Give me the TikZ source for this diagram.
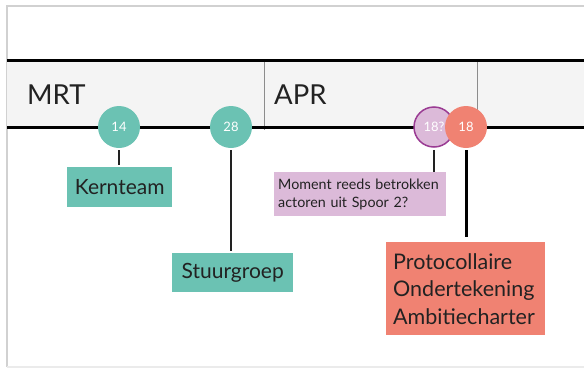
\documentclass[tikz,border=0pt]{standalone}
\usepackage{fontspec}
\setmainfont{Lato}
\usetikzlibrary{positioning}
\definecolor{tealish}{HTML}{6BC2B3}
\definecolor{salmon}{HTML}{F08272}
\definecolor{lilac}{HTML}{DCBAD9}
\definecolor{plum}{HTML}{9A3B93}
\definecolor{bandgray}{HTML}{F4F4F4}
\definecolor{ink}{HTML}{222222}

\begin{document}
\begin{tikzpicture}[x=1pt,y=-1pt,
  dot/.style={circle,inner sep=0pt,minimum size=42pt,text=white,font=\fontsize{13}{15}\selectfont},
  card/.style={anchor=north west,inner sep=0pt,text=ink},
  stem/.style={line width=2pt,ink,shorten >=2pt,shorten <=2pt},
  month/.style={anchor=base west,inner sep=0pt,text=ink,font=\fontsize{27.5}{31}\selectfont}]
\useasboundingbox (0,0) rectangle (584,370);
% frame and month band
\draw[black!18,line width=1.5pt] (7,367) -- (7,6) -- (584,6);
\draw[black!8,line width=1.5pt] (7,367) -- (584,367);
\fill[bandgray] (7,60) rectangle (584,127);
\draw[black!45,line width=.8pt] (264,60) -- (264,130) (477,60) -- (477,130);
\draw[line width=3pt] (7,60) -- (584,60) (7,127) -- (584,127);
\node[month] (mrt) at (27,104) {MRT};
\node[month] (apr) at (274,104) {APR};
% events
\node[card,fill=tealish,minimum width=105pt,minimum height=40pt,font=\fontsize{21}{24}\selectfont] (kernteam) at (67,167) {Kernteam};
\node[card,fill=tealish,minimum width=121pt,minimum height=39pt,font=\fontsize{21}{24}\selectfont] (stuurgroep) at (172,253) {Stuurgroep};
\node[card,fill=lilac,inner xsep=4pt,text width=164pt,minimum height=44pt,align=left,font=\fontsize{14.3}{18}\selectfont] (moment) at (274,172) {Moment reeds betrokken\\actoren uit Spoor 2?};
\node[card,fill=salmon,inner xsep=7pt,text width=145pt,minimum height=93pt,align=left,font=\fontsize{21.5}{27.5}\selectfont] (charter) at (386,242) {Protocollaire\\Ondertekening\\Ambitiecharter};
% dates on the line
\node[dot,fill=tealish] (c14) at (119,127) {14};
\node[dot,fill=tealish] (c28) at (231,127) {28};
\node[dot,fill=lilac,draw=plum,line width=1.5pt,minimum size=40pt] (c18q) at (434,127) {18?};
\node[dot,fill=salmon] (c18) at (466,127) {18};
\draw[stem] (c14.south) -- (c14 |- kernteam.north);
\draw[stem] (c28.south) -- (c28 |- stuurgroep.north);
\draw[stem,shorten >=0pt] (c18q.south) -- (c18q |- moment.north);
\draw[stem,line width=3pt,black,shorten >=5pt] (c18.south) -- (c18 |- charter.north);
\end{tikzpicture}
\end{document}
